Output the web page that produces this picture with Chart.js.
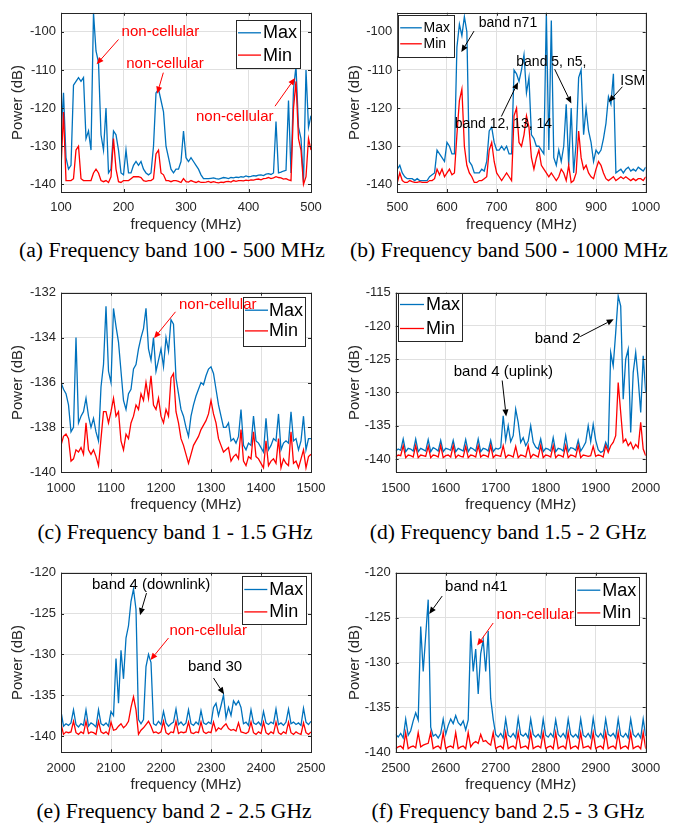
<!DOCTYPE html>
<html>
<head>
<meta charset="utf-8">
<script src="https://cdn.jsdelivr.net/npm/chart.js@4.4.0/dist/chart.umd.min.js"></script>
<style>
html,body{margin:0;padding:0;background:#fff;}
#wrap{position:relative;width:687px;height:825px;background:#fff;overflow:hidden;}
canvas{position:absolute;}
.cap{position:absolute;white-space:nowrap;font-family:"Liberation Serif","Times New Roman",serif;font-size:21.6px;color:#000;transform:translate(-50%,-50%);line-height:1;}
</style>
</head>
<body>
<div id="wrap">
<canvas id="ca" width="343" height="238" style="left:0px;top:0px"></canvas>
<canvas id="cb" width="344" height="238" style="left:343px;top:0px"></canvas>
<canvas id="cc" width="343" height="248" style="left:0px;top:270px"></canvas>
<canvas id="cd" width="344" height="248" style="left:343px;top:270px"></canvas>
<canvas id="ce" width="343" height="248" style="left:0px;top:550px"></canvas>
<canvas id="cf" width="344" height="248" style="left:343px;top:550px"></canvas>
<div class="cap" style="left:172px;top:251px">(a) Frequency band 100 - 500 MHz</div>
<div class="cap" style="left:509px;top:251px">(b) Frequency band 500 - 1000 MHz</div>
<div class="cap" style="left:175px;top:533px">(c) Frequency band 1 - 1.5 GHz</div>
<div class="cap" style="left:508px;top:533px">(d) Frequency band 1.5 - 2 GHz</div>
<div class="cap" style="left:174px;top:812px">(e) Frequency band 2 - 2.5 GHz</div>
<div class="cap" style="left:508px;top:812px">(f) Frequency band 2.5 - 3 GHz</div>
</div>
<script>
// ---------------- DATA ----------------
const seriesLabels = ['Max', 'Min'];

const freqA = [100,104,108,112,116,120,124,128,132,136,140,144,148,152,156,160,164,168,172,176,180,184,188,192,196,200,204,208,212,216,220,224,228,232,236,240,244,248,252,256,260,264,268,272,276,280,284,288,292,296,300,304,308,312,316,320,324,328,332,336,340,344,348,352,356,360,364,368,372,376,380,384,388,392,396,400,404,408,412,416,420,424,428,432,436,440,444,448,452,456,460,464,468,472,476,480,484,488,492,496,500];
const maxA = [-127,-116,-133,-136,-135,-114,-113,-112,-113,-112,
 -128,-126,-131,-95,-105,-108,-127,-131,-120,-137,
 -136,-126,-127,-131,-137,-137.5,-131,-137,-137,-135,
 -134,-135,-134,-136,-137,-137.5,-137,-130,-116,-115,
 -118,-121,-130,-133,-136,-137,-136,-136,-134,-126,
 -133,-134,-133,-134,-135,-136,-137.5,-138.5,-138.5,-138.5,
 -138.4,-138.3,-138.5,-138.6,-138.4,-138.2,-138.3,-138.5,-138.2,-138.3,
 -138.1,-138.2,-138,-138.1,-137.8,-138,-137.9,-137.7,-137.8,-137.6,
 -137.5,-137.7,-137.3,-137.2,-137.4,-137,-123.5,-137,-136.8,-136.5,
 -136.3,-118,-137,-115,-109,-125,-128,-139.5,-110,-125,
 -122];
const minA = [-136,-121,-139,-139,-139,-138.5,-131,-130,-138.5,-139,
 -139,-139,-139,-137,-136,-137,-139,-139.3,-139,-139.5,
 -138,-128,-136,-139.3,-139.5,-139,-139,-139,-138.5,-138,
 -138,-138,-138.2,-139,-139.2,-139,-139,-138.5,-132,-131,
 -137,-137.5,-139,-139,-139.3,-139,-139,-139.2,-139.5,-138.5,
 -139.3,-139.4,-139,-139.3,-139.5,-139.2,-139.5,-139.5,-139.4,-139.2,
 -139.5,-139.3,-139.5,-139.6,-139.4,-139.5,-139.3,-139.2,-139.4,-139,
 -139.2,-139,-139,-139.1,-138.9,-139,-138.8,-138.9,-138.7,-138.6,
 -138.8,-138.5,-138.4,-138.2,-138.5,-138.3,-138,-138.2,-138.3,-138.6,
 -138.5,-138.8,-139,-120,-113,-128,-131,-140,-138,-128,
 -131];

const freqB = [500,505,510,515,520,525,530,535,540,545,550,555,560,565,570,575,580,585,590,595,600,605,610,615,620,625,630,635,640,645,650,655,660,665,670,675,680,685,690,695,700,705,710,715,720,725,730,735,740,745,750,755,760,765,770,775,780,785,790,795,800,805,810,815,820,825,830,835,840,845,850,855,860,865,870,875,880,885,890,895,900,905,910,915,920,925,930,935,940,945,950,955,960,965,970,975,980,985,990,995,1000];
const maxB = [-136,-135,-137,-138,-138.5,-138.5,-138.5,-139,-138.5,-139,
 -139,-139,-139,-138,-137.5,-137,-131,-132,-133,-134,
 -129,-130,-132,-132,-104,-98,-101,-96,-100,-134,
 -135,-137,-137,-137,-136,-136.5,-134,-126,-125,-129,
 -131,-131,-130,-131,-130,-132,-132,-110,-111,-113,
 -110,-106,-116,-112,-127,-128,-130,-130,-131,-132,
 -95,-131,-97,-133,-135,-131,-134,-130,-119,-135,
 -120,-137,-129,-112,-110,-127,-120,-126,-129,-134,
 -131,-132,-131,-128,-124,-117,-119,-111,-137,-136.5,
 -136,-137,-136,-135.5,-136.5,-136,-136.5,-135.5,-136,-136.5,
 -135.5];
const minB = [-139.5,-137,-139,-139.5,-139.5,-139,-139.3,-139.5,-139.5,-139.3,
 -139.5,-139.5,-139.5,-139,-139,-138.5,-136,-137.5,-136,-138,
 -137,-136,-137.5,-137,-127,-118,-115,-130,-135,-137,
 -138,-139.5,-139.5,-139,-139,-138.5,-138,-131,-129,-134,
 -137,-138,-139,-138,-137,-138,-139,-122,-120,-129,
 -130,-127,-122,-125,-133,-136,-133,-131,-135,-136,
 -137,-138,-137,-138,-139,-138,-136,-137,-139,-135,
 -139.5,-139,-137,-126,-133,-136,-135,-137,-138,-138.5,
 -136,-134,-135,-137,-138.5,-139,-138.5,-138,-139,-138.5,
 -138,-138.5,-138,-138.5,-139,-138.5,-139,-138.5,-138.5,-139,
 -138];

const freqC = [1000,1005,1010,1015,1020,1025,1030,1035,1040,1045,1050,1055,1060,1065,1070,1075,1080,1085,1090,1095,1100,1105,1110,1115,1120,1125,1130,1135,1140,1145,1150,1155,1160,1165,1170,1175,1180,1185,1190,1195,1200,1205,1210,1215,1220,1225,1230,1235,1240,1245,1250,1255,1260,1265,1270,1275,1280,1285,1290,1295,1300,1305,1310,1315,1320,1325,1330,1335,1340,1345,1350,1355,1360,1365,1370,1375,1380,1385,1390,1395,1400,1405,1410,1415,1420,1425,1430,1435,1440,1445,1450,1455,1460,1465,1470,1475,1480,1485,1490,1495,1500];
const maxC = [-136,-136.3,-136.5,-137,-138.2,-138,-134,-137.8,-137.5,-137.3,
 -136.7,-137.5,-138,-137.6,-138.2,-138.6,-136.2,-135.2,-132.6,-135.5,
 -136,-132.7,-133.5,-134.2,-135.5,-136.8,-137.2,-136.5,-136.3,-135.4,
 -135.2,-134.5,-134,-133.6,-132.7,-134.5,-135,-134,-135.5,-135,
 -134.5,-135.3,-134,-134.6,-133.2,-133.4,-135.8,-136.5,-137.2,-137.5,
 -138,-138.4,-137.5,-137,-136.6,-136.3,-136,-136.1,-135.7,-135.4,
 -135.3,-135.6,-136.3,-137,-137.5,-138,-138,-137.8,-138.6,-138.5,
 -138.7,-138.4,-137.2,-138.8,-139,-138.7,-138.8,-137.5,-138.6,-138.7,
 -138.9,-139.1,-137.6,-139,-138.8,-138.5,-138.6,-137.4,-139,-138.7,
 -138.6,-138.7,-137.3,-138.6,-138.5,-139,-138.6,-137.5,-139,-138.5,
 -138.5];
const minC = [-138.8,-138.4,-138.3,-138.5,-139.5,-139.4,-139,-139.1,-138.9,-139.2,
 -137.8,-139,-139.2,-139,-139.3,-139.7,-138.5,-137.3,-137.3,-137.8,
 -137.3,-136.7,-137.5,-137.3,-138.6,-139,-138.3,-138.5,-137.8,-137.5,
 -137,-137.2,-136.5,-136.8,-136,-136.7,-135.7,-137,-137.2,-136.7,
 -137.5,-137.8,-137.2,-137.5,-135.8,-135.6,-137.3,-137.8,-138.5,-138.8,
 -139.2,-139.6,-139.2,-138.8,-138.6,-138.4,-138.1,-137.9,-137.7,-137.4,
 -136.8,-137.4,-137.8,-138.5,-138.8,-139.1,-139,-138.9,-139.5,-139.3,
 -139.2,-139.4,-138.1,-139.5,-139.7,-139.3,-139.4,-138.2,-139.3,-139.4,
 -139.6,-139.8,-138.6,-139.7,-139.5,-139.4,-139.6,-138.5,-139.8,-139.4,
 -139.6,-139.7,-138.2,-139.6,-139.5,-139.8,-139.4,-139,-139.8,-139.3,
 -139.2];

const freqD = [1500,1505,1510,1515,1520,1525,1530,1535,1540,1545,1550,1555,1560,1565,1570,1575,1580,1585,1590,1595,1600,1605,1610,1615,1620,1625,1630,1635,1640,1645,1650,1655,1660,1665,1670,1675,1680,1685,1690,1695,1700,1705,1710,1715,1720,1725,1730,1735,1740,1745,1750,1755,1760,1765,1770,1775,1780,1785,1790,1795,1800,1805,1810,1815,1820,1825,1830,1835,1840,1845,1850,1855,1860,1865,1870,1875,1880,1885,1890,1895,1900,1905,1910,1915,1920,1925,1930,1935,1940,1945,1950,1955,1960,1965,1970,1975,1980,1985,1990,1995,2000];
const maxD = [-138.8,-138.5,-138.7,-137,-138.9,-138.4,-138.5,-138.8,-137,-138.9,
 -138.4,-138.6,-138.8,-137.1,-138.9,-138.3,-138.5,-138.8,-137.2,-138.9,
 -138.4,-138.5,-138.7,-137.2,-138.9,-138.4,-138.6,-138.8,-137.1,-138.9,
 -138.3,-138.5,-138.8,-137,-138.9,-138.4,-138.5,-138.8,-137.2,-138.9,
 -138.4,-138.5,-138.3,-133.5,-137.2,-135,-137.4,-136.5,-132.5,-134.5,
 -137.5,-136.8,-138,-137.3,-135,-137.5,-138.2,-138.5,-137,-138.9,
 -138.4,-138.5,-138.8,-136.8,-138.9,-138.4,-138.5,-138.8,-136.5,-138.9,
 -138.3,-138.4,-138.7,-137.2,-138.8,-138.2,-137.5,-135,-137.4,-134.8,
 -137.2,-138.6,-139,-138.8,-137.5,-138.5,-124,-126,-121,-115.5,
 -117,-131,-125,-123.5,-136,-127,-124,-128,-133,-124.5,
 -130];
const minD = [-139.7,-139.4,-139.5,-138,-139.8,-139.4,-139.5,-139.7,-138,-139.8,
 -139.4,-139.5,-139.6,-138.1,-139.8,-139.4,-139.5,-139.7,-138,-139.8,
 -139.5,-139.4,-139.7,-138,-139.8,-139.4,-139.6,-139.7,-138.1,-139.8,
 -139.4,-139.5,-139.7,-138,-139.7,-139.4,-139.5,-139.7,-138,-139.8,
 -139.4,-139.5,-139.6,-138,-139.8,-139.4,-139.5,-139.7,-138.1,-139.8,
 -139.4,-139.5,-139.7,-138,-139.8,-139.3,-139.5,-139.7,-138,-139.8,
 -139.4,-139.5,-139.7,-138,-139.8,-139.4,-139.5,-139.7,-138,-139.8,
 -139.4,-139.5,-139.7,-138,-139.8,-139.4,-139.5,-139.6,-139.5,-138.1,
 -139.6,-139.4,-139.5,-139.7,-138,-139,-138,-137.5,-136.5,-128.5,
 -133,-137.5,-137,-138,-137.5,-138.5,-137.8,-138.3,-134.5,-138.5,
 -139.5];

const freqE = [2000,2005,2010,2015,2020,2025,2030,2035,2040,2045,2050,2055,2060,2065,2070,2075,2080,2085,2090,2095,2100,2105,2110,2115,2120,2125,2130,2135,2140,2145,2150,2155,2160,2165,2170,2175,2180,2185,2190,2195,2200,2205,2210,2215,2220,2225,2230,2235,2240,2245,2250,2255,2260,2265,2270,2275,2280,2285,2290,2295,2300,2305,2310,2315,2320,2325,2330,2335,2340,2345,2350,2355,2360,2365,2370,2375,2380,2385,2390,2395,2400,2405,2410,2415,2420,2425,2430,2435,2440,2445,2450,2455,2460,2465,2470,2475,2480,2485,2490,2495,2500];
const maxE = [-137,-138.8,-138.5,-138.7,-138.4,-136.8,-138.6,-138.9,-138.5,-138.7,
 -136.8,-138.8,-138.4,-138.6,-138.9,-136.8,-138.5,-138.7,-138.4,-138.8,
 -137,-137.5,-130.5,-136,-129.5,-133,-128,-126.5,-123.5,-122,
 -124.5,-138,-138.5,-138,-131.5,-130,-131,-138.5,-138.7,-138.2,
 -138.6,-137,-138.4,-138.8,-138.5,-138.3,-136.7,-138.6,-138.3,-138.7,
 -138.4,-136.8,-138.5,-138.7,-138.3,-138.6,-136.9,-138.4,-138.6,-138.3,
 -138.5,-136.5,-136,-137.5,-136.3,-135,-137.8,-136.5,-137.5,-135.7,
 -136.2,-135.7,-136.5,-138.5,-138.3,-138.7,-136.8,-138.4,-138.6,-138.3,
 -138.7,-137,-138.4,-138.6,-138.3,-138.5,-136.7,-138.6,-138.4,-138.7,
 -138.3,-136.7,-138.5,-138.3,-138.6,-138.4,-138.7,-136.6,-138.3,-138.6,
 -138.2];
const minE = [-138.5,-139.8,-139.5,-139.6,-139.5,-138.2,-139.6,-139.8,-139.5,-139.7,
 -138.2,-139.7,-139.5,-139.6,-139.8,-138.2,-139.5,-139.7,-139.5,-139.8,
 -138.3,-139.3,-139.2,-138.8,-138.5,-139,-138.7,-138.2,-136.5,-135.2,
 -136.8,-139.8,-139.3,-139,-138.6,-138.2,-138.8,-139.6,-139.5,-139.7,
 -139.5,-138.2,-139.6,-139.8,-139.5,-139.6,-138.2,-139.7,-139.5,-139.6,
 -139.5,-138.3,-139.6,-139.7,-139.5,-139.6,-138.3,-139.5,-139.7,-139.5,
 -139.6,-138.3,-139.4,-139,-139.2,-138.8,-138.5,-139.1,-139.3,-139.2,
 -139.4,-138.4,-139.5,-139.6,-139.7,-139.5,-138.3,-139.6,-139.8,-139.5,
 -139.7,-138.3,-139.6,-139.8,-139.5,-139.7,-138.3,-139.6,-139.8,-139.5,
 -139.7,-138.3,-139.6,-139.8,-139.5,-139.7,-139.8,-138.4,-139.6,-139.8,
 -139.5];

const freqF = [2500,2505,2510,2515,2520,2525,2530,2535,2540,2545,2550,2555,2560,2565,2570,2575,2580,2585,2590,2595,2600,2605,2610,2615,2620,2625,2630,2635,2640,2645,2650,2655,2660,2665,2670,2675,2680,2685,2690,2695,2700,2705,2710,2715,2720,2725,2730,2735,2740,2745,2750,2755,2760,2765,2770,2775,2780,2785,2790,2795,2800,2805,2810,2815,2820,2825,2830,2835,2840,2845,2850,2855,2860,2865,2870,2875,2880,2885,2890,2895,2900,2905,2910,2915,2920,2925,2930,2935,2940,2945,2950,2955,2960,2965,2970,2975,2980,2985,2990,2995,3000];
const maxF = [-138,-138.3,-137.9,-138.4,-136.3,-138.1,-137.6,-136.5,-135.6,-136.4,
 -126,-131,-127,-123,-137.2,-138.2,-138,-138.4,-137.9,-136.3,
 -138,-137,-136.3,-136.8,-135.9,-136.7,-137,-136.5,-137.5,-136.4,
 -126.5,-131,-128.5,-133.5,-129,-127.5,-131,-126.5,-134,-136.3,
 -138,-138.3,-137.9,-138.4,-136.3,-138.1,-138.3,-137.9,-138.4,-136.2,
 -138,-138.2,-137.9,-138.4,-136.3,-138,-138.3,-138,-138.4,-136.3,
 -138.1,-138.3,-137.9,-138.3,-136.4,-138,-138.3,-137.9,-138.4,-136.3,
 -138,-138.3,-138,-138.4,-136.3,-138.1,-138.3,-137.9,-138.4,-136.2,
 -138,-138.3,-137.9,-138.4,-136.3,-138,-138.2,-137.9,-138.4,-136.3,
 -138.1,-138.3,-137.9,-138.4,-136.3,-138,-138.3,-137.9,-138.4,-136.3,
 -138.2];
const minF = [-139.6,-139.4,-139.3,-139.6,-137.8,-139.6,-139.4,-139.3,-139.5,-137.8,
 -139.4,-139.2,-139.1,-139,-137.8,-139.6,-139.4,-139.3,-139.6,-137.8,
 -139.6,-139.4,-139.3,-139.5,-137.8,-139.6,-139.4,-139.3,-139.6,-137.8,
 -139.4,-139,-138.8,-139,-138,-138.8,-138.7,-139,-139.2,-137.8,
 -139.6,-139.4,-139.3,-139.6,-137.8,-139.6,-139.4,-139.3,-139.6,-137.8,
 -139.5,-139.4,-139.3,-139.6,-137.8,-139.6,-139.4,-139.3,-139.5,-137.8,
 -139.6,-139.4,-139.3,-139.6,-137.8,-139.6,-139.4,-139.3,-139.6,-137.8,
 -139.6,-139.4,-139.3,-139.6,-137.8,-139.5,-139.4,-139.3,-139.6,-137.8,
 -139.6,-139.4,-139.3,-139.6,-137.8,-139.6,-139.4,-139.3,-139.6,-137.8,
 -139.6,-139.4,-139.3,-139.6,-137.8,-139.6,-139.4,-139.3,-139.6,-137.8,
 -139.6];

// tick labels
const xTicksA = [100,200,300,400,500];
const yTicksA = [-140,-130,-120,-110,-100];
const xTicksB = [500,600,700,800,900,1000];
const yTicksB = [-140,-130,-120,-110,-100];
const xTicksC = [1000,1100,1200,1300,1400,1500];
const yTicksC = [-140,-138,-136,-134,-132];
const xTicksD = [1500,1600,1700,1800,1900,2000];
const yTicksD = [-140,-135,-130,-125,-120,-115];
const xTicksE = [2000,2100,2200,2300,2400,2500];
const yTicksE = [-140,-135,-130,-125,-120];
const xTicksF = [2500,2600,2700,2800,2900,3000];
const yTicksF = [-140,-135,-130,-125,-120];

// annotations (text anchor and arrow, in data units: MHz, dB)
const notesA = [
  {t:'non-cellular', c:'#FF0000', x:259, y:-100, x1:192, y1:-102, x2:157, y2:-108.5},
  {t:'non-cellular', c:'#FF0000', x:266.4, y:-108.4, x1:263.7, y1:-110.7, x2:254, y2:-116.2},
  {t:'non-cellular', c:'#FF0000', x:378, y:-122.2, x1:442.4, y1:-119.5, x2:474.4, y2:-112.1}
];
const notesB = [
  {t:'band n71', c:'#000000', x:722.8, y:-97.6, x1:654.4, y1:-99.8, x2:628.9, y2:-105.3},
  {t:'band 5, n5,', c:'#000000', x:810, y:-107.9, x1:816.8, y1:-109.8, x2:850.3, y2:-118.8},
  {t:'ISM', c:'#000000', x:974, y:-113, x1:953, y1:-114.4, x2:925.5, y2:-118.4},
  {t:'band 12, 13, 14', c:'#000000', x:713.5, y:-124.1, x1:709.4, y1:-122.2, x2:743, y2:-113.2}
];
const notesC = [
  {t:'non-cellular', c:'#FF0000', x:1313.5, y:-132.52, x1:1229, y1:-132.85, x2:1186, y2:-134.03}
];
const notesD = [
  {t:'band 2', c:'#000000', x:1824, y:-121.9, x1:1869, y1:-121.6, x2:1936, y2:-119},
  {t:'band 4 (uplink)', c:'#000000', x:1715.3, y:-126.9, x1:1713, y1:-128.2, x2:1721, y2:-133.6}
];
const notesE = [
  {t:'band 4 (downlink)', c:'#000000', x:2180.3, y:-121.5, x1:2171, y1:-122.5, x2:2158, y2:-125.2},
  {t:'non-cellular', c:'#FF0000', x:2294.3, y:-127.1, x1:2215, y1:-128, x2:2179, y2:-130.7},
  {t:'band 30', c:'#000000', x:2308, y:-131.5, x1:2305, y1:-132.9, x2:2326, y2:-134.9}
];
const notesF = [
  {t:'band n41', c:'#000000', x:2661.3, y:-121.56, x1:2593, y1:-122.6, x2:2567, y2:-124.6},
  {t:'non-cellular', c:'#FF0000', x:2779, y:-124.7, x1:2695, y1:-125.6, x2:2663, y2:-128.1}
];

// ---------------- LAYOUT / STYLE ----------------
const COL_MAX = '#0072BD', COL_MIN = '#FF0000', AXC = '#262626';
Chart.defaults.font.family = '"Liberation Sans", Arial, Helvetica, sans-serif';

const panels = [
  {id:'ca', freq:freqA, max:maxA, min:minA, xr:[100,500], yr:[-142,-95], xt:xTicksA, yt:yTicksA,
   cv:{l:0,t:0,w:343,h:238}, area:{l:61,t:11,r:311,b:192}, yPad:9, notes:notesA, nfs:15,
   leg:{dx:175,dy:7.3,w:64,h:48.4,fs:18,r1:12.7,r2:35,l0:2,l1:25,tx:27}},
  {id:'cb', freq:freqB, max:maxB, min:minB, xr:[500,1000], yr:[-142,-95], xt:xTicksB, yt:yTicksB,
   cv:{l:343,t:0,w:344,h:238}, area:{l:397.3,t:11,r:645.7,b:192}, yPad:2.5, notes:notesB, nfs:14,
   leg:{dx:0.5,dy:1.7,w:55.7,h:41.6,fs:14,r1:13.3,r2:29.3,l0:2.4,l1:24,tx:25.7}},
  {id:'cc', freq:freqC, max:maxC, min:minC, xr:[1000,1500], yr:[-140,-132], xt:xTicksC, yt:yTicksC,
   cv:{l:0,t:270,w:343,h:248}, area:{l:61,t:292.7,r:311,b:472.3}, yPad:9, notes:notesC, nfs:15,
   leg:{dx:182,dy:4.2,w:62,h:49.3,fs:18,r1:13.3,r2:34,l0:2,l1:25,tx:26}},
  {id:'cd', freq:freqD, max:maxD, min:minD, xr:[1500,2000], yr:[-142,-115], xt:xTicksD, yt:yTicksD,
   cv:{l:343,t:270,w:344,h:248}, area:{l:395.7,t:292.7,r:645.7,b:472.3}, yPad:2.5, notes:notesD, nfs:15,
   leg:{dx:2.3,dy:0.2,w:64,h:48,fs:18,r1:11.6,r2:35.6,l0:2,l1:26,tx:28}},
  {id:'ce', freq:freqE, max:maxE, min:minE, xr:[2000,2500], yr:[-142,-120], xt:xTicksE, yt:yTicksE,
   cv:{l:0,t:550,w:343,h:248}, area:{l:61,t:572.7,r:311,b:752.3}, yPad:9, notes:notesE, nfs:15,
   leg:{dx:181.3,dy:3.5,w:64.4,h:48,fs:18,r1:13.3,r2:35.7,l0:2,l1:25,tx:27}},
  {id:'cf', freq:freqF, max:maxF, min:minF, xr:[2500,3000], yr:[-140,-120], xt:xTicksF, yt:yTicksF,
   cv:{l:343,t:550,w:344,h:248}, area:{l:395.7,t:572.7,r:645.7,b:752.3}, yPad:2.5, notes:notesF, nfs:15,
   leg:{dx:179.6,dy:4.2,w:64.4,h:48.3,fs:18,r1:13.3,r2:36,l0:2,l1:25,tx:27}}
];

function drawArrow(ctx, x1, y1, x2, y2, color) {
  const ang = Math.atan2(y2 - y1, x2 - x1);
  const L = 7, W = 3;
  const bx = x2 - L * Math.cos(ang), by = y2 - L * Math.sin(ang);
  ctx.strokeStyle = color; ctx.fillStyle = color; ctx.lineWidth = 1;
  ctx.beginPath(); ctx.moveTo(x1, y1); ctx.lineTo(bx, by); ctx.stroke();
  ctx.beginPath();
  ctx.moveTo(x2, y2);
  ctx.lineTo(bx + W * Math.sin(ang), by - W * Math.cos(ang));
  ctx.lineTo(bx - W * Math.sin(ang), by + W * Math.cos(ang));
  ctx.closePath(); ctx.fill();
}

const matlabPlugin = {
  id: 'matlab',
  afterDatasetsDraw(chart, args, opts) {
    const ctx = chart.ctx, a = chart.chartArea, xs = chart.scales.x, ys = chart.scales.y;
    ctx.save();
    ctx.strokeStyle = AXC; ctx.lineWidth = 1;
    ctx.beginPath();
    xs.ticks.forEach(t => {
      const px = Math.round(xs.getPixelForValue(t.value)) + 0.5;
      ctx.moveTo(px, a.bottom); ctx.lineTo(px, a.bottom - 3);
      ctx.moveTo(px, a.top); ctx.lineTo(px, a.top + 3);
    });
    ys.ticks.forEach(t => {
      const py = Math.round(ys.getPixelForValue(t.value)) + 0.5;
      ctx.moveTo(a.left, py); ctx.lineTo(a.left + 3, py);
      ctx.moveTo(a.right, py); ctx.lineTo(a.right - 3, py);
    });
    ctx.stroke();
    const L = Math.round(a.left) + 0.5, T = Math.round(a.top) + 0.5;
    ctx.strokeRect(L, T, Math.round(a.right) - Math.round(a.left), Math.round(a.bottom) - Math.round(a.top));
    // legend
    const g = opts.leg;
    const bx = a.left + g.dx, by = a.top + g.dy;
    ctx.fillStyle = '#ffffff';
    ctx.fillRect(bx, by, g.w, g.h);
    ctx.strokeStyle = AXC;
    ctx.strokeRect(Math.round(bx) + 0.5, Math.round(by) + 0.5, Math.round(g.w), Math.round(g.h));
    const rows = [g.r1, g.r2];
    chart.data.datasets.forEach((ds, i) => {
      const ry = by + rows[i];
      ctx.strokeStyle = ds.borderColor; ctx.lineWidth = 1.3;
      ctx.beginPath(); ctx.moveTo(bx + g.l0, ry); ctx.lineTo(bx + g.l1, ry); ctx.stroke();
      ctx.fillStyle = '#000';
      ctx.font = g.fs + 'px "Liberation Sans", Arial, sans-serif';
      ctx.textAlign = 'left'; ctx.textBaseline = 'middle';
      ctx.fillText(ds.label, bx + g.tx, ry + 0.5);
    });
    // annotations
    ctx.font = opts.nfs + 'px "Liberation Sans", Arial, sans-serif';
    ctx.textAlign = 'center'; ctx.textBaseline = 'middle';
    opts.notes.forEach(n => {
      ctx.fillStyle = n.c;
      ctx.fillText(n.t, xs.getPixelForValue(n.x), ys.getPixelForValue(n.y));
      drawArrow(ctx, xs.getPixelForValue(n.x1), ys.getPixelForValue(n.y1),
                xs.getPixelForValue(n.x2), ys.getPixelForValue(n.y2), n.c);
    });
    ctx.restore();
  }
};

function build(p) {
  const padTop = p.area.t - p.cv.t;
  const padRight = p.cv.l + p.cv.w - p.area.r;
  const yW = p.area.l - p.cv.l;
  const xH = p.cv.t + p.cv.h - p.area.b;
  new Chart(document.getElementById(p.id), {
    type: 'line',
    data: {
      datasets: [
        {label: seriesLabels[0], data: p.freq.map((f, i) => ({x: f, y: p.max[i]})),
         borderColor: COL_MAX, borderWidth: 1.3, pointRadius: 0, tension: 0, order: 2},
        {label: seriesLabels[1], data: p.freq.map((f, i) => ({x: f, y: p.min[i]})),
         borderColor: COL_MIN, borderWidth: 1.3, pointRadius: 0, tension: 0, order: 1}
      ]
    },
    options: {
      responsive: false, animation: false, devicePixelRatio: 1, parsing: false,
      layout: {padding: {top: padTop, right: padRight, left: 0, bottom: 0}},
      plugins: {
        legend: {display: false}, tooltip: {enabled: false},
        matlab: {leg: p.leg, notes: p.notes, nfs: p.nfs}
      },
      scales: {
        x: {
          type: 'linear', min: p.xr[0], max: p.xr[1],
          afterBuildTicks: s => { s.ticks = p.xt.map(v => ({value: v})); },
          afterFit: s => { s.height = xH; },
          ticks: {autoSkip: false, maxRotation: 0, minRotation: 0, padding: 8, color: AXC,
                  font: {size: 13}, callback: v => String(v)},
          grid: {color: '#e0e0e0', drawTicks: false, lineWidth: 1},
          border: {display: false},
          title: {display: true, text: 'frequency (MHz)', color: AXC, font: {size: 15},
                  padding: {top: 0, bottom: 4}}
        },
        y: {
          type: 'linear', min: p.yr[0], max: p.yr[1],
          afterBuildTicks: s => { s.ticks = p.yt.map(v => ({value: v})); },
          afterFit: s => { s.width = yW; },
          ticks: {autoSkip: false, padding: 5, color: AXC, font: {size: 13}, callback: v => String(v)},
          grid: {color: '#e0e0e0', drawTicks: false, lineWidth: 1},
          border: {display: false},
          title: {display: true, text: 'Power (dB)', color: AXC, font: {size: 15},
                  padding: {top: p.yPad, bottom: 0}}
        }
      }
    },
    plugins: [matlabPlugin]
  });
}
panels.forEach(build);
</script>
</body>
</html>
